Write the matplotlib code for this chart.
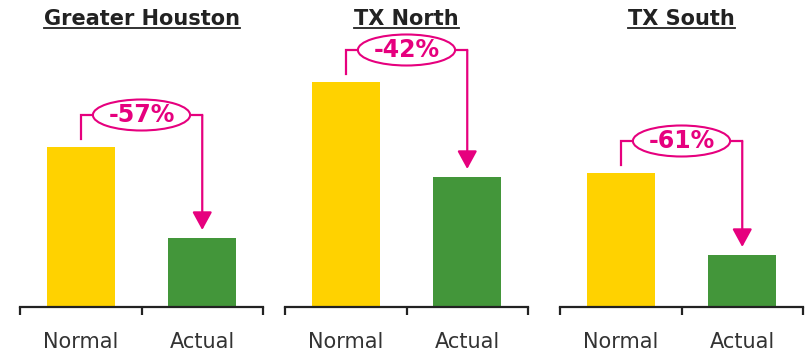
import matplotlib
matplotlib.use('Agg')
import matplotlib.pyplot as plt
from matplotlib.patches import Ellipse
from matplotlib.lines import Line2D

# values (same arbitrary scale for all three panels)
regions = ['Greater Houston', 'TX North', 'TX South']
categories = ['Normal', 'Actual']
normal_vals = [160, 225, 134]
actual_vals = [69, 130, 52]
pct_labels = ['-57%', '-42%', '-61%']

yellow = '#FFD200'
green = '#43963A'
magenta = '#E6007E'
dark = '#222222'

W, H = 810, 351
fig = plt.figure(figsize=(W / 100, H / 100), dpi=100)

lefts = [20, 285, 560]
axes = []
for i, region in enumerate(regions):
    ax = fig.add_axes([lefts[i] / W, 44 / H, 243 / W, 300 / H])
    axes.append(ax)
    n = normal_vals[i]
    a = actual_vals[i]
    ax.bar([0, 1], [n, a], width=0.56, color=[yellow, green])
    ax.set_xlim(-0.5, 1.5)
    ax.set_ylim(0, 300)
    for s in ['top', 'left', 'right']:
        ax.spines[s].set_visible(False)
    ax.spines['bottom'].set_color(dark)
    ax.spines['bottom'].set_linewidth(1.6)
    ax.set_yticks([])
    ax.set_xticks([-0.5, 0.5, 1.5])
    ax.set_xticklabels([])
    ax.tick_params(axis='x', which='major', length=6, width=1.6, color=dark)
    ax.set_xticks([0, 1], minor=True)
    ax.set_xticklabels(categories, minor=True, fontsize=15, color='#333333')
    ax.tick_params(axis='x', which='minor', length=0, pad=18)

    # bracket with the change label
    top = n + 32
    ax.plot([0, 0, 0.1], [n + 8, top, top], color=magenta, lw=1.6,
            solid_joinstyle='miter')
    ax.annotate('', xy=(1, a + 8), xytext=(1, top),
                arrowprops=dict(arrowstyle='-|>,head_length=1.1,head_width=0.6',
                                color=magenta, lw=1.6, shrinkA=0, shrinkB=0,
                                mutation_scale=10))
    ax.plot([0.9, 1], [top, top], color=magenta, lw=1.6)
    ax.add_patch(Ellipse((0.5, top), width=0.8, height=31, facecolor='white',
                         edgecolor=magenta, lw=1.5, zorder=3))
    ax.text(0.5, top, pct_labels[i], ha='center', va='center', fontsize=17,
            fontweight='bold', color=magenta, zorder=4)

# underlined titles
renderer = fig.canvas.get_renderer()
for i, region in enumerate(regions):
    ax = axes[i]
    xc = (lefts[i] + 121.5) / W
    t = fig.text(xc, (H - 25) / H, region, ha='center', va='baseline',
                 fontsize=15, fontweight='bold', color=dark)
    bb = t.get_window_extent(renderer)
    fig.add_artist(Line2D([bb.x0 / W, bb.x1 / W], [(H - 27.5) / H, (H - 27.5) / H],
                          color=dark, lw=1.3, transform=fig.transFigure))

fig.savefig('out.png', dpi=100)
